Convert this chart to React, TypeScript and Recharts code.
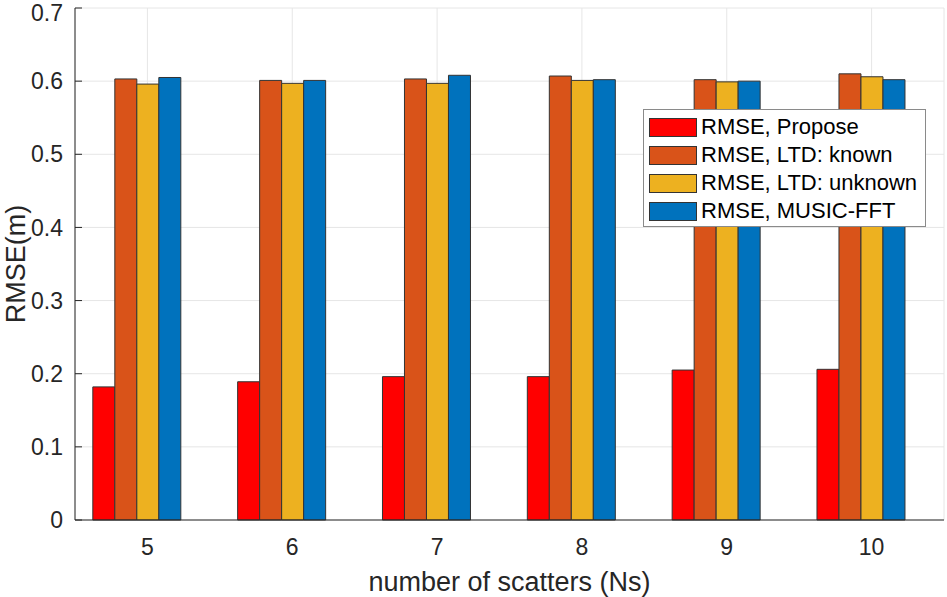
import React from 'react';
import { BarChart, Bar, XAxis, YAxis, CartesianGrid } from 'recharts';

const scatters = ['5', '6', '7', '8', '9', '10'];
const rmsePropose = [0.182, 0.189, 0.196, 0.196, 0.205, 0.206];
const rmseLtdKnown = [0.603, 0.601, 0.603, 0.607, 0.602, 0.610];
const rmseLtdUnknown = [0.596, 0.597, 0.597, 0.601, 0.599, 0.606];
const rmseMusicFft = [0.605, 0.601, 0.608, 0.602, 0.600, 0.602];
const yTicks = [0, 0.1, 0.2, 0.3, 0.4, 0.5, 0.6, 0.7];

const series = [
  { key: 'propose', name: 'RMSE, Propose', color: '#ff0000' },
  { key: 'known', name: 'RMSE, LTD: known', color: '#d95319' },
  { key: 'unknown', name: 'RMSE, LTD: unknown', color: '#edb120' },
  { key: 'music', name: 'RMSE, MUSIC-FFT', color: '#0072bd' },
];

const data = scatters.map((ns, i) => ({
  ns,
  propose: rmsePropose[i],
  known: rmseLtdKnown[i],
  unknown: rmseLtdUnknown[i],
  music: rmseMusicFft[i],
}));

const font = '"Liberation Sans", Arial, sans-serif';
const axisColor = '#262626';

const LegendBox = () => (
  <div
    style={{
      position: 'absolute',
      left: 643,
      top: 109,
      boxSizing: 'border-box',
      width: 283,
      height: 118,
      border: '1px solid #8a8a8a',
      background: '#fff',
      padding: '3px 5px',
      fontFamily: font,
      fontSize: 22,
      color: '#000',
    }}
  >
    {series.map((s) => (
      <div key={s.key} style={{ display: 'flex', alignItems: 'center', height: 28 }}>
        <span
          style={{
            display: 'inline-block',
            boxSizing: 'border-box',
            width: 48,
            height: 19,
            background: s.color,
            border: '1px solid #333',
            marginRight: 4,
            flexShrink: 0,
          }}
        />
        <span style={{ whiteSpace: 'nowrap' }}>{s.name}</span>
      </div>
    ))}
  </div>
);

export default function App() {
  return (
    <div style={{ position: 'absolute', left: 0, top: 0, width: 947, height: 597, background: '#fff' }}>
      <BarChart
        width={947}
        height={597}
        data={data}
        margin={{ top: 8, right: 3, bottom: 0, left: 0 }}
        barCategoryGap="12.3%"
        barGap={0}
      >
        <CartesianGrid stroke="#e6e6e6" />
        <XAxis
          dataKey="ns"
          height={77}
          stroke={axisColor}
          tickLine={false}
          tickMargin={13}
          tick={{ fill: axisColor, fontSize: 23, fontFamily: font }}
          label={{
            value: 'number of scatters (Ns)',
            position: 'insideBottom',
            offset: 6,
            fill: axisColor,
            fontSize: 27,
            fontFamily: font,
          }}
        />
        <YAxis
          width={75}
          domain={[0, 0.7]}
          ticks={yTicks}
          stroke={axisColor}
          tickSize={-7}
          tickMargin={19}
          tickFormatter={(v: number) => (v === 0 ? '0' : String(v))}
          tick={{ fill: axisColor, fontSize: 23, fontFamily: font }}
          label={{
            value: 'RMSE(m)',
            angle: -90,
            position: 'insideLeft',
            offset: 15,
            style: { textAnchor: 'middle' },
            fill: axisColor,
            fontSize: 27,
            fontFamily: font,
          }}
        />
        {series.map((s) => (
          <Bar
            key={s.key}
            dataKey={s.key}
            name={s.name}
            fill={s.color}
            stroke="#333"
            strokeWidth={1}
            isAnimationActive={false}
          />
        ))}
        {/* empty fifth slot: the original groups leave room for a hidden series */}
        <Bar dataKey="spacer" fill="none" isAnimationActive={false} />
      </BarChart>
      <LegendBox />
    </div>
  );
}
